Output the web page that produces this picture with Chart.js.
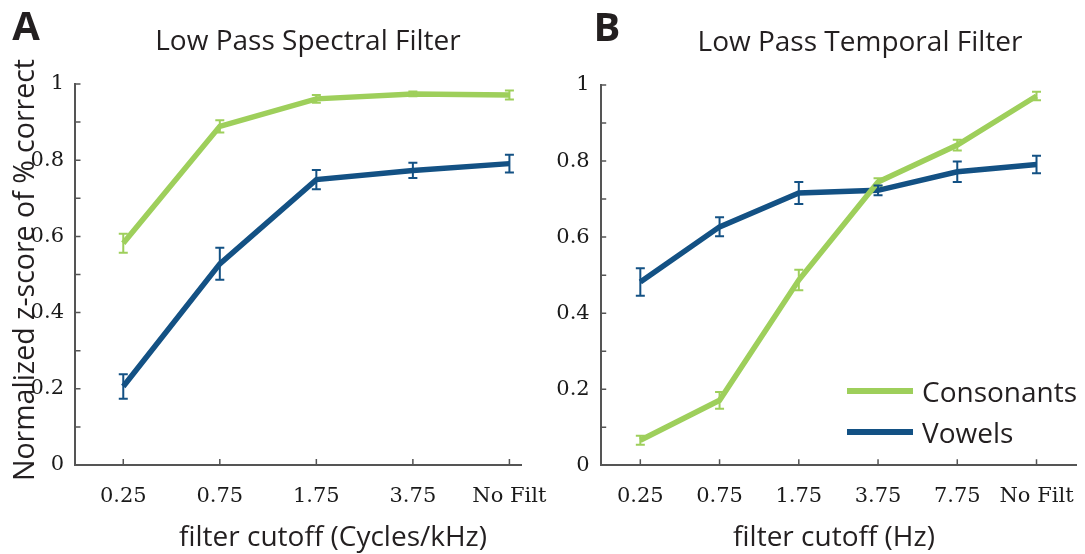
<!DOCTYPE html>
<html>
<head>
<meta charset="utf-8">
<script src="https://cdn.jsdelivr.net/npm/chart.js@4.4.1/dist/chart.umd.min.js"></script>
<style>
  html,body{margin:0;padding:0;background:#fff;}
  #wrap{position:relative;width:1085px;height:554px;background:#fff;overflow:hidden;}
  .t{position:absolute;transform:translate(-50%,-50%);white-space:nowrap;font-family:"Open Sans",sans-serif;color:#231f20;line-height:1;}
  .lg{position:absolute;white-space:nowrap;font-family:"Open Sans",sans-serif;color:#231f20;line-height:1;font-size:28px;transform:translateY(-50%);}
  .ll{position:absolute;height:6px;width:66px;transform:translateY(-50%);}
</style>
</head>
<body>
<div id="wrap">
  <div style="position:absolute;left:0;top:0;width:560px;height:554px;"><canvas id="cA"></canvas></div>
  <div style="position:absolute;left:540px;top:0;width:545px;height:554px;"><canvas id="cB"></canvas></div>

  <div class="t" style="left:26px;top:25px;font-size:40px;font-weight:700;">A</div>
  <div class="t" style="left:607px;top:26px;font-size:40px;font-weight:700;">B</div>
  <div class="t" style="left:308px;top:39px;font-size:28px;">Low Pass Spectral Filter</div>
  <div class="t" style="left:860px;top:40px;font-size:28px;">Low Pass Temporal Filter</div>
  <div class="t" style="left:23px;top:270px;font-size:28.5px;transform:translate(-50%,-50%) rotate(-90deg);">Normalized z-score of % correct</div>
  <div class="t" style="left:333px;top:535px;font-size:28px;">filter cutoff (Cycles/kHz)</div>
  <div class="t" style="left:834px;top:535px;font-size:28px;">filter cutoff (Hz)</div>

  <div class="ll" style="left:847px;top:391px;background:#9ecf5b;"></div>
  <div class="lg" style="left:922px;top:391px;">Consonants</div>
  <div class="ll" style="left:847px;top:432px;background:#135184;"></div>
  <div class="lg" style="left:922px;top:432px;">Vowels</div>
</div>
<script>
// ---- data ----
const categoriesA = ['0.25', '0.75', '1.75', '3.75', 'No Filt'];
const categoriesB = ['0.25', '0.75', '1.75', '3.75', '7.75', 'No Filt'];

const consonantsA    = [0.582, 0.889, 0.961, 0.974, 0.971];
const consonantsAErr = [0.025, 0.016, 0.010, 0.006, 0.012];
const vowelsA        = [0.206, 0.528, 0.749, 0.773, 0.791];
const vowelsAErr     = [0.032, 0.042, 0.025, 0.020, 0.023];

const consonantsB    = [0.066, 0.171, 0.487, 0.745, 0.842, 0.971];
const consonantsBErr = [0.012, 0.022, 0.027, 0.010, 0.014, 0.011];
const vowelsB        = [0.482, 0.627, 0.716, 0.723, 0.772, 0.791];
const vowelsBErr     = [0.036, 0.025, 0.029, 0.013, 0.027, 0.023];

const yMajorTicks = [0, 0.2, 0.4, 0.6, 0.8, 1];
const yMinorTicks = [0, 0.1, 0.2, 0.3, 0.4, 0.5, 0.6, 0.7, 0.8, 0.9, 1];

const GREEN = '#9ecf5b';
const BLUE = '#135184';
const AXIS = '#555555';

// ---- plugins ----
const errorBars = {
  id: 'errorBars',
  afterDatasetsDraw(chart) {
    const ctx = chart.ctx;
    const xs = chart.scales.x, ys = chart.scales.y;
    chart.data.datasets.forEach((ds) => {
      if (!ds.errors) return;
      ctx.save();
      ctx.strokeStyle = ds.borderColor;
      ctx.lineWidth = 2;
      ds.data.forEach((p, i) => {
        const e = ds.errors[i];
        const x = xs.getPixelForValue(p.x);
        const y1 = ys.getPixelForValue(p.y - e);
        const y2 = ys.getPixelForValue(p.y + e);
        ctx.beginPath();
        ctx.moveTo(x, y1); ctx.lineTo(x, y2);
        ctx.moveTo(x - 4.5, y1); ctx.lineTo(x + 4.5, y1);
        ctx.moveTo(x - 4.5, y2); ctx.lineTo(x + 4.5, y2);
        ctx.stroke();
      });
      ctx.restore();
    });
  }
};

const inwardTicks = {
  id: 'inwardTicks',
  afterDraw(chart) {
    const ctx = chart.ctx;
    const xs = chart.scales.x, ys = chart.scales.y;
    ctx.save();
    ctx.strokeStyle = AXIS;
    ctx.lineWidth = 1.5;
    ctx.beginPath();
    yMinorTicks.forEach(v => {
      const y = ys.getPixelForValue(v);
      ctx.moveTo(xs.left, y); ctx.lineTo(xs.left + 5.5, y);
    });
    chart.data.labels.forEach((l, i) => {
      const x = xs.getPixelForValue(i + 1);
      ctx.moveTo(x, ys.bottom); ctx.lineTo(x, ys.bottom - 6);
    });
    ctx.stroke();
    ctx.restore();
  }
};

function makeChart(id, cats, cons, consErr, vow, vowErr, xMax, yWidth, xHeight, padRight, padTop) {
  const pts = arr => arr.map((v, i) => ({ x: i + 1, y: v }));
  return new Chart(document.getElementById(id), {
    type: 'line',
    data: {
      labels: cats,
      datasets: [
        { label: 'Consonants', data: pts(cons), errors: consErr, borderColor: GREEN, backgroundColor: GREEN,
          borderWidth: 5.5, pointRadius: 0, tension: 0, borderJoinStyle: 'miter' },
        { label: 'Vowels', data: pts(vow), errors: vowErr, borderColor: BLUE, backgroundColor: BLUE,
          borderWidth: 5.5, pointRadius: 0, tension: 0, borderJoinStyle: 'miter' }
      ]
    },
    options: {
      responsive: true,
      maintainAspectRatio: false,
      animation: false,
      events: [],
      layout: { padding: { left: 0, right: padRight, top: padTop, bottom: 0 } },
      plugins: { legend: { display: false }, tooltip: { enabled: false }, title: { display: false } },
      scales: {
        x: {
          type: 'linear',
          min: 0.5, max: xMax,
          grid: { display: false },
          border: { display: true, color: AXIS, width: 2 },
          afterBuildTicks: s => { s.ticks = cats.map((c, i) => ({ value: i + 1 })); },
          afterFit: s => { s.height = xHeight; },
          ticks: {
            autoSkip: false, maxRotation: 0, padding: 11,
            color: '#1a1a1a',
            font: { family: 'DejaVu Serif', size: 21 },
            callback: v => cats[Math.round(v) - 1]
          }
        },
        y: {
          type: 'linear',
          min: 0, max: 1,
          grid: { display: false },
          border: { display: true, color: AXIS, width: 2 },
          afterBuildTicks: s => { s.ticks = yMajorTicks.map(v => ({ value: v })); },
          afterFit: s => { s.width = yWidth; },
          ticks: {
            autoSkip: false, padding: 3,
            color: '#1a1a1a',
            font: { family: 'DejaVu Serif', size: 21 },
            callback: v => String(Math.round(v * 10) / 10)
          }
        }
      }
    },
    plugins: [errorBars, inwardTicks]
  });
}

makeChart('cA', categoriesA, consonantsA, consonantsAErr, vowelsA, vowelsAErr, 5.12, 75, 89, 39, 84);
makeChart('cB', categoriesB, consonantsB, consonantsBErr, vowelsB, vowelsBErr, 6.5, 60.7, 88.7, 5, 85);
</script>
</body>
</html>
